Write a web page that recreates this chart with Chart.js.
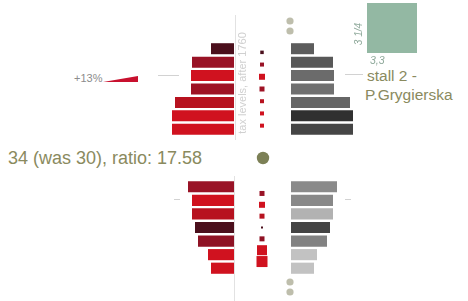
<!DOCTYPE html>
<html><head><meta charset="utf-8">
<script src="https://cdn.jsdelivr.net/npm/chart.js@4"></script>
<style>
html,body{margin:0;padding:0;background:#fff;}
#wrap{position:relative;width:468px;height:301px;overflow:hidden;font-family:"Liberation Sans",Arial,sans-serif;}
canvas{position:absolute;}
.t{position:absolute;white-space:nowrap;}
.ln{position:absolute;background:#d2d2d2;}
</style></head><body>
<div id="wrap">
  <div class="ln" style="left:235px;top:15px;width:1px;height:125px;background:#e2e2e2"></div>
  <div class="ln" style="left:234px;top:176px;width:1px;height:125px;background:#e2e2e2"></div>
  <div class="ln" style="left:158px;top:75px;width:21px;height:1px"></div>
  <div class="ln" style="left:174px;top:199px;width:6px;height:1px"></div>
  <div class="ln" style="left:345px;top:199px;width:6px;height:1px"></div>
  <div class="ln" style="left:345px;top:74px;width:18px;height:1px"></div>

  <canvas id="ul" width="70" height="94" style="left:164px;top:42px"></canvas>
  <canvas id="ur" width="70" height="94" style="left:291px;top:42px"></canvas>
  <canvas id="ll" width="70" height="95" style="left:164px;top:180px"></canvas>
  <canvas id="lr" width="70" height="95" style="left:291px;top:180px"></canvas>
  <canvas id="us" width="20" height="94" style="left:252px;top:42px"></canvas>
  <canvas id="ls" width="20" height="95" style="left:252px;top:180px"></canvas>
  <canvas id="ud" width="12" height="28" style="left:284px;top:12px"></canvas>
  <canvas id="ld" width="12" height="28" style="left:284px;top:273px"></canvas>
  <canvas id="big" width="20" height="20" style="left:253px;top:148px"></canvas>
  <canvas id="stall" width="50" height="50" style="left:367px;top:3px"></canvas>
  <canvas id="wedge" width="35" height="6" style="left:103px;top:76px"></canvas>

  <div class="t" id="taxlbl" style="left:242px;top:83px;font-size:11px;color:#d0d0d0;transform:translate(-50%,-50%) rotate(-90deg);"></div>
  <div class="t" id="growthlbl" style="left:74px;top:73px;font-size:11px;line-height:11px;color:#8c8c8c;"></div>
  <div class="t" id="summarylbl" style="left:8px;top:149px;font-size:18px;line-height:18px;color:#8a8a5e;"></div>
  <div class="t" id="stalllbl1" style="left:367px;top:68px;font-size:15.5px;line-height:15.5px;color:#8a8a5e;"></div>
  <div class="t" id="stalllbl2" style="left:365px;top:87px;font-size:15.5px;line-height:15.5px;color:#8a8a5e;"></div>
  <div class="t" id="hlbl" style="left:358px;top:34px;font-size:10px;font-style:italic;color:#8fa99b;transform:translate(-50%,-50%) rotate(-90deg);"></div>
  <div class="t" id="wlbl" style="left:370px;top:55px;font-size:10.5px;line-height:11px;font-style:italic;color:#8fa99b;"></div>
</div>
<script>
// ---- data ----
const rows = ['1','2','3','4','5','6','7'];
const upperTax = [23, 42, 43, 43, 59, 62, 62];
const lowerTax = [46, 42, 42, 39, 36, 26, 23];
const upperShift = [3.5, 4, 6, 5, 4, 4, 4];
const lowerShift = [5, 6, 5, 2, 5, 10, 11];
const upperRed = ['#4b0f1c','#991326','#d0121f','#9e1224','#b7121f','#d0121f','#d0121f'];
const lowerRed = ['#991326','#d0121f','#b7121f','#4b0f1c','#8f1224','#d0121f','#d0121f'];
const upperGrey = ['#5c5c5c','#585858','#6b6b6b','#707070','#666666','#303030','#454545'];
const lowerGrey = ['#8a8a8a','#888888','#b2b2b2','#444444','#828282','#c2c2c2','#c2c2c2'];
const moreRows = ['a','b'];
const growthLabels = ['before','after'];
const growth = [0, 13];
const stallDims = [3.3, 3.25];
const stallLabels = ['3,3', '3 1/4'];
const taxTitle = 'tax levels, after 1760';
const growthText = '+13%';
const summaryText = '34 (was 30), ratio: 17.58';
const stallName = ['stall 2 -', 'P.Grygierska'];

document.getElementById('taxlbl').textContent = taxTitle;
document.getElementById('growthlbl').textContent = growthText;
document.getElementById('summarylbl').textContent = summaryText;
document.getElementById('stalllbl1').textContent = stallName[0];
document.getElementById('stalllbl2').textContent = stallName[1];
document.getElementById('wlbl').textContent = stallLabels[0];
document.getElementById('hlbl').textContent = stallLabels[1];

const base = {
  responsive:false, animation:false, events:[],
  layout:{padding:0},
  plugins:{legend:{display:false}, tooltip:{enabled:false}}
};

function bars(id, values, colors, reverse){
  new Chart(document.getElementById(id), {
    type:'bar',
    data:{labels:rows, datasets:[{data:values, backgroundColor:colors, borderWidth:0, barPercentage:0.82, categoryPercentage:1}]},
    options:Object.assign({}, base, {indexAxis:'y',
      scales:{x:{display:false, min:0, max:70, reverse:reverse}, y:{display:false}}})
  });
}
bars('ul', upperTax, upperRed, true);
bars('ur', upperTax, upperGrey, false);
bars('ll', lowerTax, lowerRed, true);
bars('lr', lowerTax, lowerGrey, false);

function points(id, labels, radii, colors, style){
  new Chart(document.getElementById(id), {
    type:'scatter',
    data:{datasets:[{data:labels.map(r=>({x:'c', y:r})), pointStyle:style,
      pointRadius:radii, pointBackgroundColor:colors, pointBorderWidth:0, pointBorderColor:'rgba(0,0,0,0)'}]},
    options:Object.assign({}, base, {
      scales:{x:{type:'category', labels:['c'], offset:true, display:false},
              y:{type:'category', labels:labels, offset:true, display:false}}})
  });
}
points('us', rows, upperShift.map(s=>s/Math.SQRT2), upperRed, 'rect');
points('ls', rows, lowerShift.map(s=>s/Math.SQRT2), lowerRed, 'rect');
points('ud', moreRows, 3.6, '#bebeac', 'circle');
points('ld', moreRows, 3.6, '#bebeac', 'circle');
points('big', ['34'], 6.2, '#7c8056', 'circle');

new Chart(document.getElementById('stall'), {
  type:'bar',
  data:{labels:['stall 2'], datasets:[{data:[stallDims[1]], backgroundColor:'#93b8a3', borderWidth:0, barPercentage:1, categoryPercentage:1}]},
  options:Object.assign({}, base, {scales:{x:{display:false}, y:{display:false, min:0, max:stallDims[1]}}})
});

new Chart(document.getElementById('wedge'), {
  type:'line',
  data:{labels:growthLabels, datasets:[{data:growth, fill:'origin', backgroundColor:'#c8102e', borderWidth:0, pointRadius:0, tension:0}]},
  options:Object.assign({}, base, {scales:{x:{display:false, offset:false}, y:{display:false, min:0, max:13}}})
});
</script>
</body></html>
